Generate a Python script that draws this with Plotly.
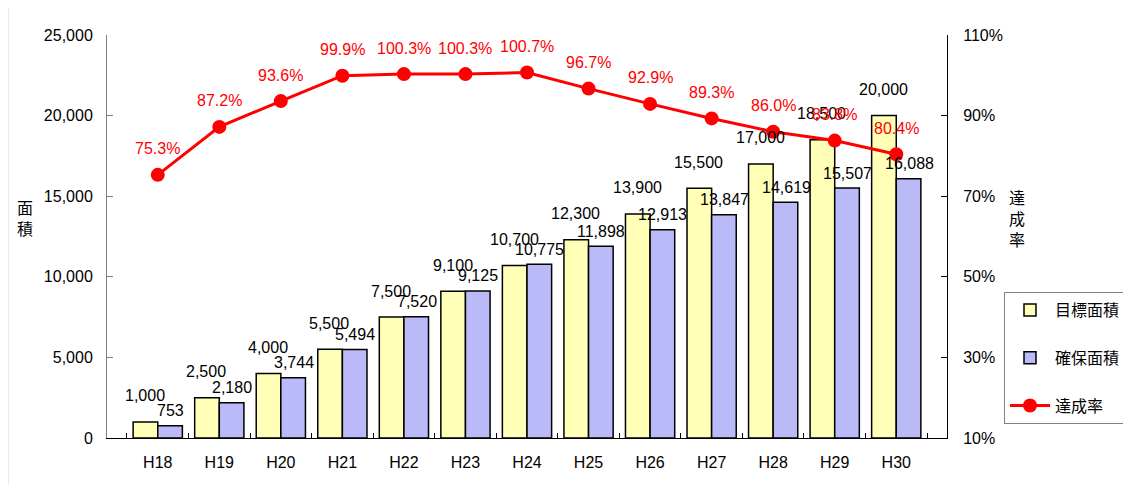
import plotly.graph_objects as go

categories = ["H18", "H19", "H20", "H21", "H22", "H23", "H24", "H25", "H26", "H27", "H28", "H29", "H30"]
target_area = [1000, 2500, 4000, 5500, 7500, 9100, 10700, 12300, 13900, 15500, 17000, 18500, 20000]
secured_area = [753, 2180, 3744, 5494, 7520, 9125, 10775, 11898, 12913, 13847, 14619, 15507, 16088]
achievement_rate = [75.3, 87.2, 93.6, 99.9, 100.3, 100.3, 100.7, 96.7, 92.9, 89.3, 86.0, 83.8, 80.4]

FONT = "Liberation Sans, Noto Sans CJK JP, sans-serif"
JFONT = "Noto Sans CJK JP, sans-serif"

# page has an 8px body margin; coordinates below are page pixels converted to figure pixels
OFF = 8
W, H = 1131, 485
L = 107 - OFF
T = 35 - OFF
R = W - (947 - OFF)
B = H - (438 - OFF)
pw, ph = W - L - R, H - T - B


def px2paper(x, y):
    return (x - OFF - L) / pw, (H - B - (y - OFF)) / ph


fig = go.Figure()
fig.add_trace(go.Bar(
    x=categories, y=target_area, name="目標面積",
    marker=dict(color="#ffffb8", line=dict(color="black", width=1.5)),
    legendgroup="a",
))
fig.add_trace(go.Bar(
    x=categories, y=secured_area, name="確保面積",
    marker=dict(color="#babaf8", line=dict(color="black", width=1.5)),
    legendgroup="b",
))
fig.add_trace(go.Scatter(
    x=categories, y=achievement_rate, name="達成率", yaxis="y2",
    mode="lines+markers",
    line=dict(color="#ff0000", width=3),
    marker=dict(color="#ff0000", size=14),
    legendgroup="c",
))

annotations = []
shift = 12.9
for c, v in zip(categories, target_area):
    annotations.append(dict(x=c, y=v, xref="x", yref="y", text=f"{v:,}", showarrow=False,
                            xshift=-shift, yshift=26, font=dict(size=16, color="black", family=FONT)))
for c, v in zip(categories, secured_area):
    annotations.append(dict(x=c, y=v, xref="x", yref="y", text=f"{v:,}", showarrow=False,
                            xshift=shift, yshift=15, font=dict(size=16, color="black", family=FONT)))
for c, v in zip(categories, achievement_rate):
    annotations.append(dict(x=c, y=v, xref="x", yref="y2", text=f"{v:.1f}%", showarrow=False,
                            yshift=26, font=dict(size=16, color="#ff0000", family=FONT)))
ax, ay = px2paper(25, 217)
annotations.append(dict(x=ax, y=ay, xref="paper", yref="paper", text="面<br>積", showarrow=False,
                        xanchor="center", yanchor="middle",
                        font=dict(size=16, color="black", family=JFONT)))
ax, ay = px2paper(1017, 218)
annotations.append(dict(x=ax, y=ay, xref="paper", yref="paper", text="達<br>成<br>率", showarrow=False,
                        xanchor="center", yanchor="middle",
                        font=dict(size=16, color="black", family=JFONT)))

lx, ly = px2paper(1004, 292)
fig.update_layout(
    width=W, height=H,
    margin=dict(l=L, r=R, t=T, b=B),
    paper_bgcolor="white", plot_bgcolor="white",
    font=dict(family=FONT, size=16, color="black"),
    barmode="group", bargap=0.2, bargroupgap=0,
    showlegend=True,
    legend=dict(x=lx, y=ly, xanchor="left", yanchor="top",
                bordercolor="#808080", borderwidth=1, bgcolor="white",
                font=dict(size=16, family=JFONT), tracegroupgap=24,
                itemwidth=40),
    xaxis=dict(showline=True, linecolor="black", linewidth=1, ticks="inside", tickson="boundaries",
               ticklen=5, tickcolor="black", showgrid=False, tickfont=dict(size=16),
               ticklabelstandoff=10),
    yaxis=dict(range=[0, 25000], dtick=5000, tickformat=",", showline=True, linecolor="#808080",
               linewidth=1, ticks="inside", ticklen=6, tickcolor="#808080", showgrid=False,
               zeroline=False, tickfont=dict(size=16), ticklabelstandoff=10),
    yaxis2=dict(range=[10, 110], tick0=10, dtick=20, ticksuffix="%", overlaying="y", side="right",
                showline=True, linecolor="black", linewidth=1, ticks="inside", ticklen=6,
                tickcolor="black", showgrid=False, zeroline=False, tickfont=dict(size=16),
                ticklabelstandoff=12),
    annotations=annotations,
)
fig.add_shape(type="line", xref="paper", yref="paper", x0=-L / pw, x1=-L / pw,
              y0=-B / ph, y1=(H - B) / ph, line=dict(color="#d9d9d9", width=1))

fig.write_html("out.html")
